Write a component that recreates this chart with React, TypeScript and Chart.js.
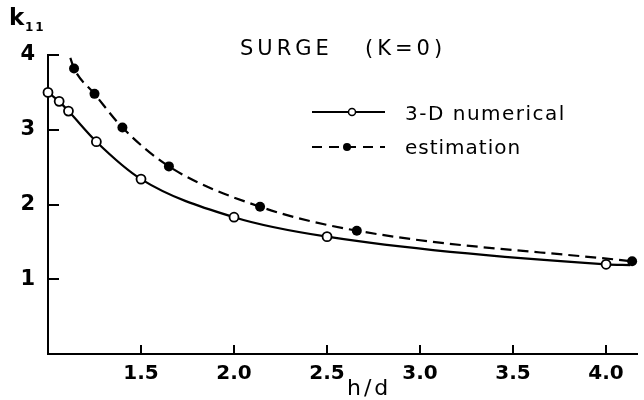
import { useEffect, useRef } from "react";
import { Chart, registerables } from "chart.js";

Chart.register(...registerables);

// Surge added-mass coefficient k11 against depth ratio h/d
const NUM_H = [1.0, 1.06, 1.11, 1.26, 1.5, 2.0, 2.5, 4.0];
const NUM_K = [3.5, 3.38, 3.25, 2.84, 2.34, 1.83, 1.57, 1.2];
const EST_H = [1.14, 1.25, 1.4, 1.65, 2.14, 2.66, 4.14];
const EST_K = [3.82, 3.48, 3.03, 2.51, 1.97, 1.65, 1.24];

// unmarked ends of the fitted curves
const NUM_CURVE_END_H = 4.13;
const NUM_CURVE_END_K = 1.19;
const EST_CURVE_START_H = 1.12;
const EST_CURVE_START_K = 3.96;

const X_TICKS = [1.5, 2.0, 2.5, 3.0, 3.5, 4.0];
const Y_TICKS = [1, 2, 3, 4];

const TITLE_WORD = "SURGE";
const TITLE_PARAM = "(K=0)";
const NUM_LABEL = "3-D numerical";
const EST_LABEL = "estimation";

const FONT = "'DejaVu Sans', sans-serif";
const INK = "#000";

type Pt = { x: number; y: number; curve?: boolean };

const decor = {
  id: "decor",
  afterDraw(chart: Chart) {
    const { ctx, chartArea } = chart;
    const xs = chart.scales.x;
    const ys = chart.scales.y;
    ctx.save();
    ctx.strokeStyle = INK;
    ctx.fillStyle = INK;
    ctx.lineWidth = 2;
    ctx.lineCap = "butt";

    // inward tick marks
    Y_TICKS.forEach((v) => {
      const py = Math.round(ys.getPixelForValue(v));
      ctx.beginPath();
      ctx.moveTo(chartArea.left, py);
      ctx.lineTo(chartArea.left + 11, py);
      ctx.stroke();
    });
    X_TICKS.forEach((v) => {
      const px = Math.round(xs.getPixelForValue(v));
      ctx.beginPath();
      ctx.moveTo(px, chartArea.bottom);
      ctx.lineTo(px, chartArea.bottom - 9);
      ctx.stroke();
    });

    // axis titles
    ctx.textBaseline = "alphabetic";
    ctx.textAlign = "left";
    ctx.font = `bold 23px ${FONT}`;
    (ctx as any).letterSpacing = "0px";
    ctx.fillText("k", 9, 25);
    ctx.font = `bold 12px ${FONT}`;
    (ctx as any).letterSpacing = "2px";
    ctx.fillText("11", 25, 31);
    ctx.font = `22px ${FONT}`;
    (ctx as any).letterSpacing = "3px";
    ctx.fillText("h/d", 347, 395);

    // title
    ctx.font = `21px ${FONT}`;
    (ctx as any).letterSpacing = "4px";
    ctx.fillText(TITLE_WORD, 240, 55);
    ctx.fillText(TITLE_PARAM, 365, 55);

    // legend
    ctx.font = `20px ${FONT}`;
    (ctx as any).letterSpacing = "1.5px";
    ctx.fillText(NUM_LABEL, 405, 120);
    (ctx as any).letterSpacing = "1px";
    ctx.fillText(EST_LABEL, 405, 154);
    (ctx as any).letterSpacing = "0px";

    ctx.lineWidth = 2;
    ctx.beginPath();
    ctx.moveTo(312, 112);
    ctx.lineTo(385, 112);
    ctx.stroke();
    ctx.beginPath();
    ctx.arc(352, 112, 3.5, 0, Math.PI * 2);
    ctx.fillStyle = "#fff";
    ctx.fill();
    ctx.lineWidth = 1.5;
    ctx.stroke();

    ctx.lineWidth = 2;
    ctx.setLineDash([10, 7]);
    ctx.beginPath();
    ctx.moveTo(312, 147);
    ctx.lineTo(385, 147);
    ctx.stroke();
    ctx.setLineDash([]);
    ctx.fillStyle = INK;
    ctx.beginPath();
    ctx.arc(347, 147, 4, 0, Math.PI * 2);
    ctx.fill();

    ctx.restore();
  },
};

export default function App() {
  const ref = useRef<HTMLCanvasElement | null>(null);

  useEffect(() => {
    if (!ref.current) return;

    const numData: Pt[] = NUM_H.map((h, i) => ({ x: h, y: NUM_K[i] }));
    numData.push({ x: NUM_CURVE_END_H, y: NUM_CURVE_END_K, curve: true });
    const estData: Pt[] = [{ x: EST_CURVE_START_H, y: EST_CURVE_START_K, curve: true }];
    EST_H.forEach((h, i) => estData.push({ x: h, y: EST_K[i] }));

    const radius = (r: number) => (c: any) => (c.raw && c.raw.curve ? 0 : r);

    const chart = new Chart(ref.current, {
      type: "line",
      data: {
        datasets: [
          {
            label: EST_LABEL,
            data: estData as any,
            borderColor: INK,
            borderWidth: 2.2,
            borderDash: [11, 6],
            cubicInterpolationMode: "monotone",
            pointRadius: radius(5) as any,
            pointBackgroundColor: INK,
            pointBorderColor: INK,
            pointBorderWidth: 0,
            clip: false as any,
          },
          {
            label: NUM_LABEL,
            data: numData as any,
            borderColor: INK,
            borderWidth: 2.2,
            cubicInterpolationMode: "monotone",
            pointRadius: radius(4.5) as any,
            pointBackgroundColor: "#fff",
            pointBorderColor: INK,
            pointBorderWidth: 1.8,
            clip: false as any,
          },
        ],
      },
      options: {
        responsive: false,
        animation: false,
        parsing: true,
        layout: { padding: { top: 55, left: 0, right: 0, bottom: 0 } },
        plugins: {
          legend: { display: false },
          tooltip: { enabled: false },
          title: { display: false },
        },
        scales: {
          x: {
            type: "linear",
            min: 1,
            max: 4.17,
            afterBuildTicks: (s: any) => {
              s.ticks = X_TICKS.map((v) => ({ value: v }));
            },
            afterFit: (s: any) => {
              s.height = 46;
            },
            ticks: {
              autoSkip: false,
              maxRotation: 0,
              padding: 8,
              color: INK,
              font: { family: FONT, size: 20, weight: "bold" },
              callback: (v: any) => Number(v).toFixed(1),
            },
            grid: { display: false, drawTicks: false },
            border: { display: true, color: INK, width: 2 },
          },
          y: {
            type: "linear",
            min: 0,
            max: 4,
            afterBuildTicks: (s: any) => {
              s.ticks = Y_TICKS.map((v) => ({ value: v }));
            },
            afterFit: (s: any) => {
              s.width = 48;
            },
            ticks: {
              padding: 13,
              color: INK,
              font: { family: FONT, size: 21, weight: "bold" },
              callback: (v: any) => String(v),
            },
            grid: { display: false, drawTicks: false },
            border: { display: true, color: INK, width: 2 },
          },
        },
      },
      plugins: [decor],
    });

    return () => chart.destroy();
  }, []);

  return (
    <div style={{ position: "fixed", left: 0, top: 0, width: 644, height: 400, background: "#fff" }}>
      <canvas ref={ref} width={644} height={400} style={{ display: "block" }} />
    </div>
  );
}
